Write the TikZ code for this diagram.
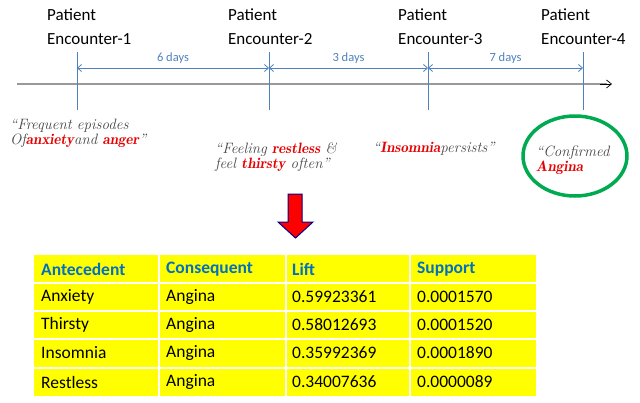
\documentclass[tikz,border=0pt]{standalone}
\usepackage{fontspec}
\setmainfont{Carlito}
\usetikzlibrary{arrows.meta}
\definecolor{tlblue}{RGB}{79,129,189}
\definecolor{hdblue}{RGB}{0,112,192}
\definecolor{tyellow}{RGB}{255,255,0}
\definecolor{cgreen}{RGB}{0,170,80}
\definecolor{qred}{RGB}{230,0,0}
\definecolor{qgray}{RGB}{70,70,70}
\tikzset{
  enc/.style={anchor=north west,align=left,font=\fontsize{17}{23.5}\selectfont,inner sep=0pt},
  tick/.style={draw=tlblue,line width=0.8pt},
  dim/.style={draw=tlblue,line width=0.8pt,{Straight Barb[length=4pt,width=7pt]}-{Straight Barb[length=4pt,width=7pt]}},
  dlab/.style={font=\fontsize{12.5}{14}\selectfont,text=tlblue,inner sep=0pt},
  quote/.style={anchor=north west,align=left,inner sep=0pt,text=qgray,font=\fontfamily{lmr}\itshape\fontsize{15}{15}\selectfont},
  ctext/.style={anchor=west,inner sep=0pt,font=\fontsize{17.5}{19}\selectfont},
  htext/.style={ctext,text=hdblue,font=\bfseries\fontsize{17.5}{19}\selectfont}
}
\begin{document}
\begin{tikzpicture}[x=1pt,y=-1pt]
\useasboundingbox (0,0) rectangle (640,402);
% encounter labels
\node[enc] (e1) at (47,9) {Patient\\Encounter-1};
\node[enc] (e2) at (228,9) {Patient\\Encounter-2};
\node[enc] (e3) at (398,9) {Patient\\Encounter-3};
\node[enc] (e4) at (541,9) {Patient\\Encounter-4};
% axis
\coordinate (a0) at (17,84);
\coordinate (a1) at (612,84);
\draw[draw=gray!80,line width=1.2pt] (a0) -- (607,84);
\draw[-{Straight Barb[length=5pt,width=8pt]},line width=0.7pt] (600,84) -- (a1);
% ticks
\foreach \n/\x in {1/77,2/269,3/428,4/583}{
  \coordinate (t\n) at (\x,52);
  \coordinate (b\n) at (\x,110);
  \coordinate (m\n) at (\x,68);
  \draw[tick] (t\n) -- (b\n);
}
\draw[dim] (m1) -- (m2) node[dlab,midway,above=4pt] (d1) {6 days};
\draw[dim] (m2) -- (m3) node[dlab,midway,above=4pt] (d2) {3 days};
\draw[dim] (m3) -- (m4) node[dlab,midway,above=4pt] (d3) {7 days};
% quotes
\node[quote] (q1) at (10,119) {``Frequent episodes\\Of\textcolor{qred}{\bfseries anxiety}and \textcolor{qred}{\bfseries anger}''};
\node[quote] (q2) at (215,143) {``Feeling \textcolor{qred}{\bfseries restless} \&\\feel \textcolor{qred}{\bfseries thirsty} often''};
\node[quote] (q3) at (373,142) {``\textcolor{qred}{\bfseries Insomnia}persists''};
\draw[cgreen,line width=3.5pt] (575,156) ellipse (52 and 40);
\node[quote] (q4) at (536,146) {``Confirmed\\\textcolor{qred}{\bfseries Angina}};
% red arrow
\draw[draw=blue!55!black,fill=red,line width=1pt,line join=miter]
  (288,194) -- (302,194) -- (302,222) -- (313,222) -- (295.5,238) -- (278,222) -- (288,222) -- cycle;
% table
\fill[tyellow] (34,255) rectangle (536,396);
\foreach \x in {159,286,410}{\draw[white,line width=1.5pt] (\x,255) -- (\x,396);}
\foreach \y in {283,311,339,368}{\draw[white,line width=1.5pt] (34,\y) -- (536,\y);}
\node[htext] (h1) at (41,269) {Antecedent};
\node[htext] (h2) at (166,269) {Consequent};
\node[htext] (h3) at (292,269) {Lift};
\node[htext] (h4) at (417,269) {Support};
\foreach \r/\y/\a/\l/\s in {1/297/Anxiety/0.59923361/0.0001570, 2/325/Thirsty/0.58012693/0.0001520, 3/353/Insomnia/0.35992369/0.0001890, 4/382/Restless/0.34007636/0.0000089}{
  \node[ctext] (r\r a) at (41,\y) {\a};
  \node[ctext] (r\r b) at (166,\y) {Angina};
  \node[ctext] (r\r c) at (292,\y) {\l};
  \node[ctext] (r\r d) at (417,\y) {\s};
}
\end{tikzpicture}
\end{document}
